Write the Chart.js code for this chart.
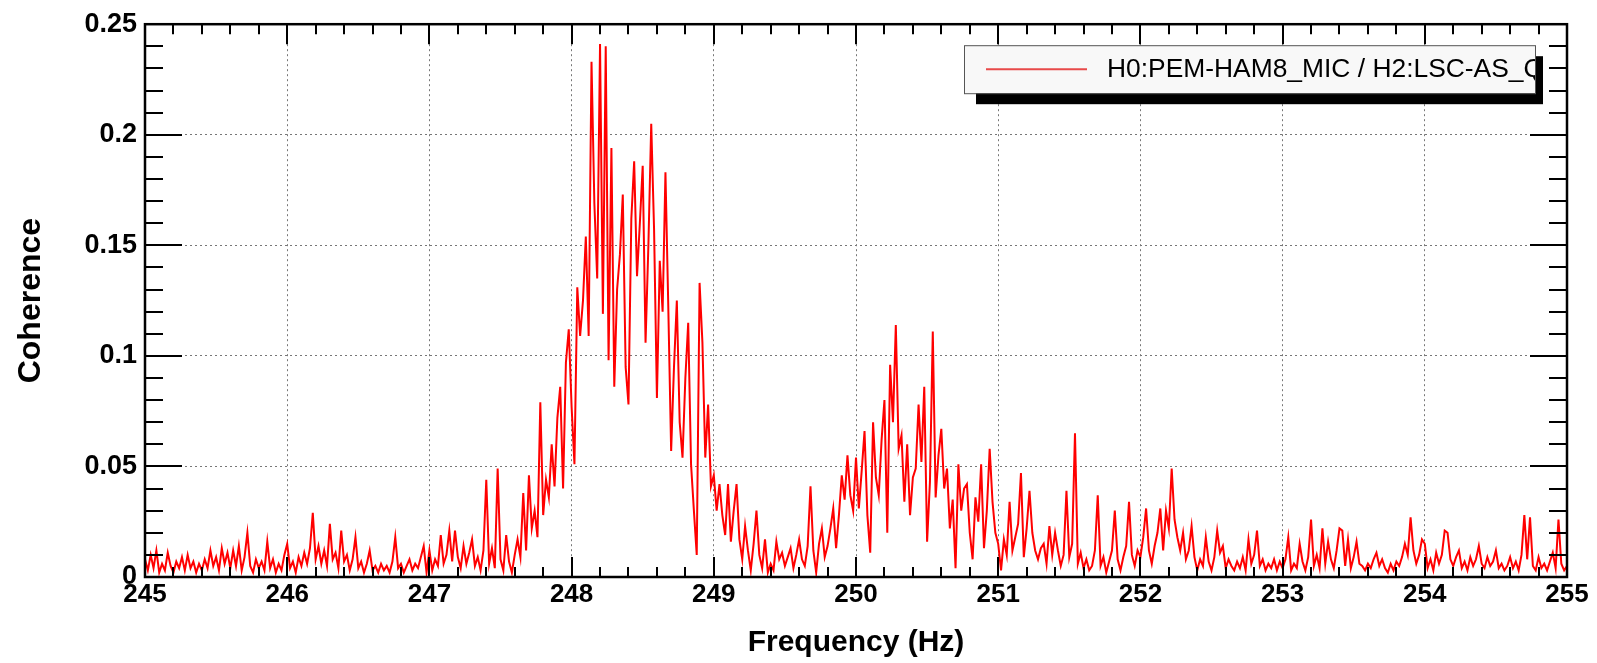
<!DOCTYPE html>
<html lang="en">
<head>
<meta charset="UTF-8">
<title>Coherence</title>
<style>
  body { margin: 0; background: #fff; }
  #coherence-chart { display: block; }
</style>
</head>
<body>
<canvas id="coherence-chart" width="1597" height="663"></canvas>
<script src="https://cdn.jsdelivr.net/npm/chart.js"></script>
<script>
// frequency bins, 245 Hz to 255 Hz
const freqStart = 245;
const freqStep = 0.02;

// coherence values, one array per Hz
const coh245 = [0.008,0.003,0.010,0.004,0.012,0.002,0.006,0.003,0.011,0.005,
  0.002,0.007,0.004,0.009,0.003,0.010,0.004,0.007,0.002,0.006,
  0.003,0.008,0.004,0.012,0.005,0.009,0.003,0.013,0.006,0.011,
  0.004,0.012,0.005,0.014,0.003,0.009,0.020,0.005,0.002,0.008,
  0.004,0.007,0.003,0.016,0.004,0.008,0.002,0.006,0.003,0.010];
const coh246 = [0.015,0.004,0.007,0.002,0.009,0.005,0.011,0.006,0.013,0.029,
  0.008,0.014,0.006,0.012,0.005,0.024,0.008,0.011,0.004,0.021,
  0.007,0.010,0.003,0.008,0.018,0.004,0.007,0.002,0.006,0.012,
  0.003,0.005,0.002,0.006,0.003,0.005,0.002,0.007,0.018,0.004,
  0.006,0.002,0.005,0.008,0.003,0.006,0.004,0.009,0.014,0.002];
const coh247 = [0.012,0.003,0.008,0.005,0.019,0.006,0.010,0.021,0.007,0.021,
  0.009,0.004,0.014,0.006,0.011,0.017,0.005,0.009,0.003,0.012,
  0.044,0.006,0.013,0.004,0.049,0.008,0.003,0.019,0.007,0.002,
  0.010,0.017,0.009,0.038,0.012,0.046,0.022,0.030,0.018,0.079,
  0.028,0.044,0.036,0.060,0.041,0.072,0.086,0.040,0.097,0.112];
const coh248 = [0.077,0.051,0.131,0.109,0.125,0.154,0.109,0.233,0.169,0.135,
  0.241,0.119,0.240,0.098,0.194,0.086,0.130,0.146,0.173,0.095,
  0.078,0.162,0.188,0.136,0.160,0.186,0.106,0.150,0.205,0.157,
  0.081,0.143,0.120,0.183,0.122,0.057,0.095,0.125,0.070,0.054,
  0.090,0.115,0.051,0.030,0.010,0.133,0.106,0.054,0.078,0.041];
const coh249 = [0.046,0.030,0.042,0.028,0.019,0.042,0.016,0.030,0.042,0.017,
  0.008,0.023,0.012,0.003,0.015,0.030,0.010,0.004,0.017,0.002,
  0.006,0.003,0.016,0.008,0.011,0.005,0.009,0.013,0.004,0.010,
  0.017,0.008,0.005,0.014,0.041,0.012,0.002,0.015,0.022,0.009,
  0.014,0.022,0.031,0.013,0.028,0.046,0.035,0.055,0.037,0.030];
const coh250 = [0.054,0.031,0.048,0.066,0.028,0.011,0.070,0.045,0.037,0.062,
  0.080,0.020,0.096,0.070,0.114,0.058,0.064,0.034,0.060,0.028,
  0.045,0.049,0.078,0.052,0.086,0.016,0.043,0.111,0.036,0.055,
  0.067,0.040,0.049,0.022,0.035,0.004,0.051,0.030,0.040,0.042,
  0.020,0.008,0.036,0.025,0.051,0.013,0.030,0.058,0.034,0.020];
const coh251 = [0.015,0.003,0.017,0.010,0.034,0.012,0.018,0.024,0.047,0.009,
  0.022,0.039,0.020,0.012,0.008,0.013,0.015,0.006,0.023,0.010,
  0.020,0.012,0.005,0.010,0.039,0.009,0.015,0.065,0.006,0.011,
  0.004,0.008,0.003,0.005,0.012,0.037,0.005,0.009,0.002,0.007,
  0.012,0.030,0.008,0.003,0.009,0.014,0.034,0.010,0.005,0.012];
const coh252 = [0.009,0.018,0.031,0.012,0.006,0.014,0.020,0.031,0.012,0.030,
  0.022,0.049,0.026,0.018,0.012,0.020,0.008,0.012,0.023,0.009,
  0.003,0.008,0.005,0.018,0.007,0.003,0.009,0.021,0.011,0.014,
  0.004,0.008,0.005,0.003,0.007,0.004,0.009,0.003,0.017,0.006,
  0.010,0.021,0.005,0.008,0.003,0.006,0.004,0.008,0.003,0.007];
const coh253 = [0.004,0.008,0.018,0.003,0.006,0.004,0.015,0.007,0.003,0.009,
  0.026,0.005,0.010,0.004,0.022,0.006,0.016,0.008,0.004,0.012,
  0.022,0.021,0.005,0.017,0.004,0.009,0.016,0.006,0.005,0.003,
  0.006,0.004,0.008,0.011,0.005,0.008,0.004,0.002,0.006,0.003,
  0.007,0.005,0.009,0.015,0.010,0.027,0.012,0.006,0.010,0.017];
const coh254 = [0.015,0.004,0.008,0.003,0.011,0.006,0.010,0.021,0.020,0.008,
  0.005,0.009,0.012,0.004,0.007,0.003,0.009,0.005,0.008,0.014,
  0.006,0.004,0.009,0.005,0.007,0.012,0.004,0.006,0.003,0.005,
  0.009,0.004,0.007,0.003,0.010,0.028,0.008,0.027,0.005,0.003,
  0.009,0.004,0.006,0.003,0.007,0.011,0.004,0.026,0.006,0.003,
  0.005];

const xTicks = [245, 246, 247, 248, 249, 250, 251, 252, 253, 254, 255];
const yTicks = [0, 0.05, 0.1, 0.15, 0.2, 0.25];
const legendLabel = 'H0:PEM-HAM8_MIC / H2:LSC-AS_Q';

const coherence = [].concat(coh245, coh246, coh247, coh248, coh249,
  coh250, coh251, coh252, coh253, coh254);
const points = coherence.map((c, i) => ({ x: +(freqStart + i * freqStep).toFixed(2), y: c }));

const boldFont = size => ({ family: '"Liberation Sans", Arial, sans-serif', size: size, weight: 'bold' });

// ROOT style frame: black box with ticks pointing inwards on all four sides
const rootFrame = {
  id: 'rootFrame',
  afterDatasetsDraw(chart) {
    const { ctx, chartArea: a, scales: { x, y } } = chart;
    ctx.save();
    ctx.strokeStyle = '#000';
    ctx.lineWidth = 2;
    ctx.beginPath();
    const yStep = (yTicks[1] - yTicks[0]) / 5;
    for (let k = 0; k <= (yTicks.length - 1) * 5; k++) {
      const py = Math.round(y.getPixelForValue(yTicks[0] + k * yStep));
      const len = k % 5 === 0 ? 37 : 18;
      ctx.moveTo(a.left, py); ctx.lineTo(a.left + len, py);
      ctx.moveTo(a.right, py); ctx.lineTo(a.right - len, py);
    }
    const xStep = (xTicks[1] - xTicks[0]) / 5;
    for (let k = 0; k <= (xTicks.length - 1) * 5; k++) {
      const px = Math.round(x.getPixelForValue(xTicks[0] + k * xStep));
      const len = k % 5 === 0 ? 20 : 10;
      ctx.moveTo(px, a.bottom); ctx.lineTo(px, a.bottom - len);
      ctx.moveTo(px, a.top); ctx.lineTo(px, a.top + len);
    }
    ctx.stroke();
    ctx.lineWidth = 2.5;
    ctx.strokeRect(a.left, a.top, a.right - a.left, a.bottom - a.top);
    ctx.restore();
  }
};

// legend box with the drop shadow, top right of the frame
const legendBox = {
  id: 'legendBox',
  afterDraw(chart) {
    const { ctx, chartArea: a } = chart;
    const bx = a.right - 603, by = a.top + 21, bw = 571, bh = 48;
    ctx.save();
    ctx.fillStyle = '#000';
    ctx.fillRect(bx + 12, by + 11, bw - 4, bh);
    ctx.fillStyle = '#f8f8f8';
    ctx.fillRect(bx, by, bw, bh);
    ctx.strokeStyle = '#555';
    ctx.lineWidth = 1;
    ctx.strokeRect(bx + 0.5, by + 0.5, bw, bh);
    ctx.beginPath();
    ctx.rect(bx, by, bw, bh);
    ctx.clip();
    ctx.strokeStyle = '#e84a4a';
    ctx.lineWidth = 2;
    ctx.beginPath();
    ctx.moveTo(bx + 22, by + 24);
    ctx.lineTo(bx + 123, by + 24);
    ctx.stroke();
    ctx.fillStyle = '#000';
    ctx.font = '26.4px "Liberation Sans", Arial, sans-serif';
    ctx.textBaseline = 'middle';
    ctx.fillText(legendLabel, bx + 143, by + 25);
    ctx.restore();
  }
};

const config = {
  type: 'line',
  data: {
    datasets: [{
      label: legendLabel,
      data: points,
      borderColor: '#ff0000',
      borderWidth: 2,
      pointRadius: 0,
      tension: 0,
      fill: false
    }]
  },
  options: {
    responsive: false,
    animation: false,
    layout: { padding: { top: 22, right: 30, bottom: 0, left: 0 } },
    plugins: {
      legend: { display: false },
      tooltip: { enabled: false }
    },
    scales: {
      x: {
        type: 'linear',
        min: xTicks[0],
        max: xTicks[xTicks.length - 1],
        afterBuildTicks: s => { s.ticks = xTicks.map(v => ({ value: v })); },
        afterFit: s => { s.height = 86; },
        ticks: { color: '#000', font: boldFont(26), padding: 2, maxRotation: 0, autoSkip: false,
                 callback: v => String(v) },
        grid: { color: '#777', lineWidth: 1, drawTicks: false },
        border: { display: false, dash: [2, 3] },
        title: { display: true, text: 'Frequency (Hz)', color: '#000', font: boldFont(30),
                 padding: { top: 0, bottom: 2 } }
      },
      y: {
        min: yTicks[0],
        max: yTicks[yTicks.length - 1],
        afterBuildTicks: s => { s.ticks = yTicks.map(v => ({ value: v })); },
        afterFit: s => { s.width = 145; },
        ticks: { color: '#000', font: boldFont(27), padding: 8, autoSkip: false,
                 callback: v => String(v) },
        grid: { color: '#777', lineWidth: 1, drawTicks: false },
        border: { display: false, dash: [2, 3] },
        title: { display: true, text: 'Coherence', color: '#000', font: boldFont(32),
                 padding: { top: 12, bottom: 0 } }
      }
    }
  },
  plugins: [rootFrame, legendBox]
};

new Chart(document.getElementById('coherence-chart').getContext('2d'), config);
</script>
</body>
</html>
